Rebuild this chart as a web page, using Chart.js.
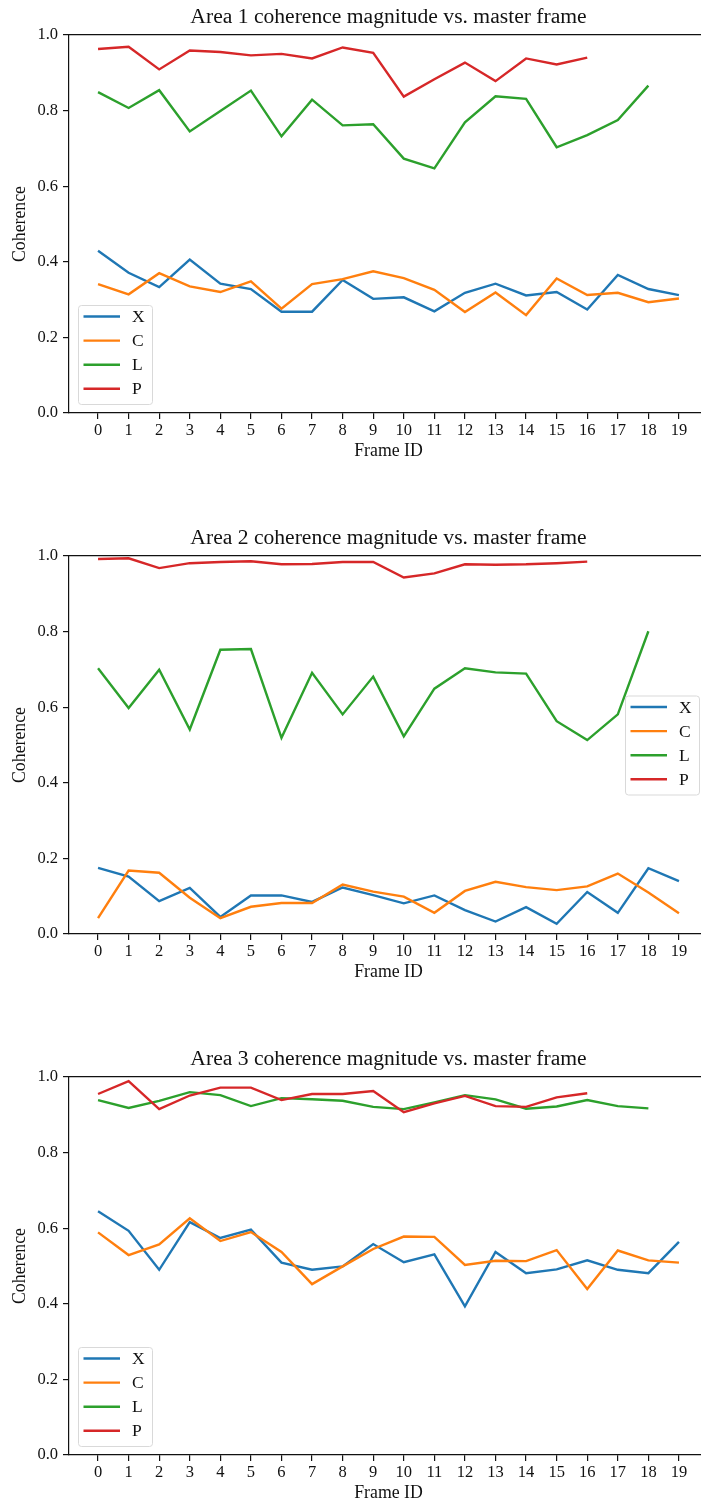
<!DOCTYPE html>
<html>
<head>
<meta charset="utf-8">
<script src="https://cdn.jsdelivr.net/npm/chart.js@4.4.0/dist/chart.umd.min.js"></script>
<style>
  html, body { margin: 0; padding: 0; background: #fff; width: 701px; height: 1503px; overflow: hidden; }
  .panel { position: absolute; left: 0; width: 720px; height: 480px; }
</style>
</head>
<body>
<div class="panel" style="top:0px"><canvas id="chart1" width="720" height="480"></canvas></div>
<div class="panel" style="top:521px"><canvas id="chart2" width="720" height="480"></canvas></div>
<div class="panel" style="top:1042px"><canvas id="chart3" width="720" height="480"></canvas></div>
<script>
// data
const frames = [0, 1, 2, 3, 4, 5, 6, 7, 8, 9, 10, 11, 12, 13, 14, 15, 16, 17, 18, 19];
const yTicks = [0, 0.2, 0.4, 0.6, 0.8, 1.0];
const seriesNames = ['X', 'C', 'L', 'P'];
const seriesColors = ['#1f77b4', '#ff7f0e', '#2ca02c', '#d62728'];

const area1X = [0.429, 0.371, 0.333, 0.406, 0.342, 0.328, 0.268, 0.268, 0.352, 0.302, 0.306, 0.269, 0.318, 0.342, 0.311, 0.320, 0.274, 0.365, 0.328, 0.312];
const area1C = [0.341, 0.314, 0.370, 0.335, 0.320, 0.348, 0.276, 0.341, 0.354, 0.375, 0.357, 0.326, 0.267, 0.319, 0.259, 0.356, 0.312, 0.318, 0.293, 0.303];
const area1L = [0.849, 0.807, 0.854, 0.745, 0.799, 0.853, 0.732, 0.829, 0.761, 0.764, 0.673, 0.647, 0.769, 0.838, 0.831, 0.703, 0.735, 0.775, 0.866];
const area1P = [0.963, 0.969, 0.909, 0.959, 0.955, 0.946, 0.950, 0.938, 0.967, 0.953, 0.837, 0.883, 0.927, 0.878, 0.938, 0.922, 0.940];

const area2X = [0.175, 0.152, 0.087, 0.122, 0.045, 0.102, 0.102, 0.085, 0.123, 0.103, 0.081, 0.102, 0.063, 0.033, 0.071, 0.027, 0.111, 0.056, 0.174, 0.140];
const area2C = [0.042, 0.168, 0.162, 0.096, 0.042, 0.072, 0.082, 0.082, 0.131, 0.112, 0.099, 0.056, 0.114, 0.138, 0.124, 0.116, 0.126, 0.160, 0.110, 0.055];
const area2L = [0.703, 0.598, 0.699, 0.541, 0.752, 0.754, 0.519, 0.691, 0.581, 0.681, 0.523, 0.649, 0.703, 0.692, 0.689, 0.563, 0.513, 0.581, 0.801];
const area2P = [0.992, 0.994, 0.968, 0.981, 0.984, 0.986, 0.978, 0.979, 0.984, 0.984, 0.943, 0.954, 0.978, 0.977, 0.978, 0.981, 0.985];

const area3X = [0.645, 0.593, 0.490, 0.616, 0.574, 0.596, 0.509, 0.490, 0.499, 0.558, 0.510, 0.531, 0.393, 0.537, 0.481, 0.491, 0.515, 0.490, 0.481, 0.564];
const area3C = [0.589, 0.529, 0.557, 0.626, 0.566, 0.590, 0.537, 0.452, 0.499, 0.545, 0.578, 0.577, 0.503, 0.514, 0.513, 0.542, 0.439, 0.541, 0.515, 0.509];
const area3L = [0.939, 0.918, 0.937, 0.960, 0.952, 0.923, 0.944, 0.941, 0.937, 0.921, 0.915, 0.933, 0.952, 0.941, 0.916, 0.922, 0.939, 0.923, 0.917];
const area3P = [0.955, 0.989, 0.915, 0.951, 0.972, 0.972, 0.939, 0.955, 0.955, 0.963, 0.907, 0.930, 0.950, 0.923, 0.921, 0.946, 0.957];

const FONT = '"Liberation Serif", "DejaVu Serif", serif';
const INK = '#111';

// legend drawn inside the axes, like matplotlib
const insideLegend = {
    id: 'insideLegend',
    afterDraw(chart, args, opts) {
        const ctx = chart.ctx;
        const area = chart.chartArea;
        const w = 74, h = 99, pad = 9;
        let left, top;
        if (opts.loc === 'center right') {
            left = area.right - pad - w;
            top = (area.top + area.bottom) / 2 - h / 2;
        } else {
            left = area.left + pad;
            top = area.bottom - pad - h;
        }
        ctx.save();
        ctx.beginPath();
        ctx.roundRect(left + 0.5, top + 0.5, w, h, 3);
        ctx.fillStyle = 'rgba(255,255,255,0.8)';
        ctx.fill();
        ctx.strokeStyle = '#d9d9d9';
        ctx.lineWidth = 1;
        ctx.stroke();
        ctx.font = '17.5px ' + FONT;
        ctx.textBaseline = 'middle';
        chart.data.datasets.forEach((ds, i) => {
            const y = top + 11.5 + i * 24.1;
            ctx.strokeStyle = ds.borderColor;
            ctx.lineWidth = 2.4;
            ctx.beginPath();
            ctx.moveTo(left + 5.5, y);
            ctx.lineTo(left + 42, y);
            ctx.stroke();
            ctx.fillStyle = INK;
            ctx.fillText(ds.label, left + 54, y + 1);
        });
        ctx.restore();
    }
};

function makeChart(id, title, series, legendLoc) {
    const datasets = series.map((vals, i) => ({
        label: seriesNames[i],
        data: vals.map((v, j) => ({ x: frames[j], y: v })),
        borderColor: seriesColors[i],
        backgroundColor: seriesColors[i],
        borderWidth: 2.4,
        pointRadius: 0,
        tension: 0,
        fill: false,
        order: series.length - i
    }));

    return new Chart(document.getElementById(id), {
        type: 'line',
        data: { datasets: datasets },
        plugins: [insideLegend],
        options: {
            responsive: false,
            animation: false,
            layout: { padding: { left: 0, right: 12, top: 0, bottom: 0 } },
            plugins: {
                legend: { display: false },
                tooltip: { enabled: false },
                insideLegend: { loc: legendLoc }
            },
            scales: {
                x: {
                    type: 'linear',
                    position: 'bottom',
                    min: -0.95,
                    max: 19.95,
                    afterBuildTicks: s => { s.ticks = frames.map(v => ({ value: v })); },
                    afterFit: s => { s.height = 67; },
                    ticks: { font: { family: FONT, size: 16.5 }, color: INK, padding: 2, maxRotation: 0, autoSkip: false },
                    grid: { drawOnChartArea: false, drawTicks: true, tickLength: 6, color: INK, lineWidth: 1.2 },
                    border: { display: true, color: INK, width: 1.2 },
                    title: { display: true, text: 'Frame ID', font: { family: FONT, size: 17.8 }, color: INK, padding: { top: 0, bottom: 17.5 } }
                },
                xTop: {
                    type: 'linear',
                    position: 'top',
                    display: true,
                    min: -0.95,
                    max: 19.95,
                    afterFit: s => { s.height = 35; },
                    ticks: { display: false },
                    grid: { drawOnChartArea: false, drawTicks: false, color: INK },
                    border: { display: true, color: INK, width: 1.2 },
                    title: { display: true, text: title, font: { family: FONT, size: 21.6 }, color: INK, padding: { top: 4.5, bottom: 0 } }
                },
                y: {
                    min: 0,
                    max: 1,
                    afterBuildTicks: s => { s.ticks = yTicks.map(v => ({ value: v })); },
                    afterFit: s => { s.width = 69; },
                    ticks: { font: { family: FONT, size: 16.5 }, color: INK, padding: 5, callback: v => v.toFixed(1) },
                    grid: { drawOnChartArea: false, drawTicks: true, tickLength: 6, color: INK, lineWidth: 1.2 },
                    border: { display: true, color: INK, width: 1.2 },
                    title: { display: true, text: 'Coherence', font: { family: FONT, size: 17.8 }, color: INK, padding: { top: 10, bottom: 0 } }
                }
            }
        }
    });
}

makeChart('chart1', 'Area 1 coherence magnitude vs. master frame', [area1X, area1C, area1L, area1P], 'lower left');
makeChart('chart2', 'Area 2 coherence magnitude vs. master frame', [area2X, area2C, area2L, area2P], 'center right');
makeChart('chart3', 'Area 3 coherence magnitude vs. master frame', [area3X, area3C, area3L, area3P], 'lower left');
</script>
</body>
</html>
